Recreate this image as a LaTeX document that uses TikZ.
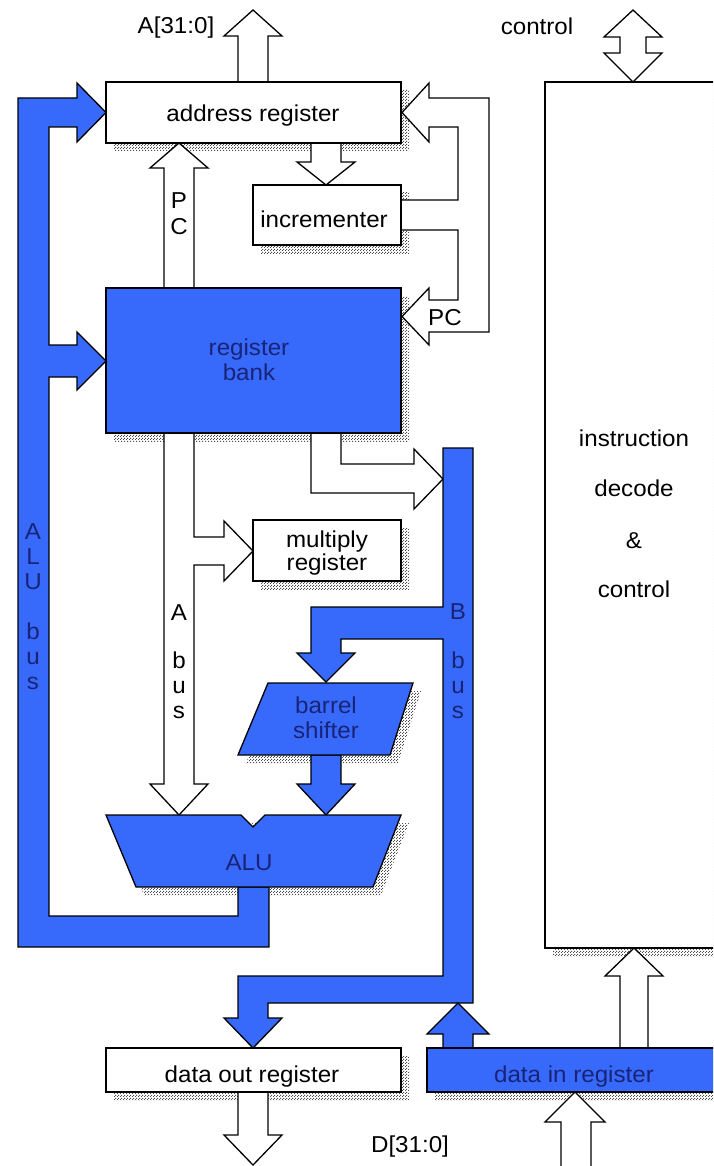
\documentclass[tikz,border=0pt]{standalone}
\usepackage{fontspec}
\setmainfont[FakeStretch=1.05]{Liberation Sans}
\usetikzlibrary{patterns}
\definecolor{busblue}{RGB}{55,105,250}
\definecolor{navy}{RGB}{25,35,120}
% staggered halftone dots for the drop shadows
\pgfdeclarepatternformonly{halftone}{\pgfqpoint{0pt}{0pt}}{\pgfqpoint{3pt}{3pt}}{\pgfqpoint{3pt}{3pt}}{%
  \pgfpathrectangle{\pgfqpoint{0pt}{0pt}}{\pgfqpoint{1.3pt}{1.3pt}}%
  \pgfpathrectangle{\pgfqpoint{1.5pt}{1.5pt}}{\pgfqpoint{1.3pt}{1.3pt}}%
  \pgfusepath{fill}}
\begin{document}
\begin{tikzpicture}[x=1pt,y=-1pt,
  outline/.style={draw=black,line width=1.3pt,line join=miter},
  hollow/.style={outline,fill=white},
  solid/.style={outline,fill=busblue},
  shade/.style={pattern=halftone,pattern color=black!70},
  lbl/.style={font=\fontsize{23}{25}\selectfont,inner sep=0pt,anchor=base},
  blbl/.style={lbl,text=navy}]
\useasboundingbox (0,0) rectangle (713,1166);
\clip (0,0) rectangle (713,1166);
\fill[white] (0,0) rectangle (713,1166);

% ---- drop shadows ----
\fill[shade] (114,90) rectangle (409,151);     % address register
\fill[shade] (261,193) rectangle (409,253);    % incrementer
\fill[shade] (114,296) rectangle (409,441);    % register bank
\fill[shade] (261,528) rectangle (409,589);    % multiply register
\fill[shade] (276,691) -- (421,691) -- (398,763) -- (246,763) -- cycle; % barrel shifter
\fill[shade] (114,823) -- (409,823) -- (381,895) -- (144,895) -- cycle; % ALU
\fill[shade] (553,90) rectangle (725,956);     % instruction decode
\fill[shade] (114,1056) rectangle (409,1100);  % data out register
\fill[shade] (435,1056) rectangle (725,1100);  % data in register

% ---- hollow (white) block arrows ----
% address bus out
\draw[hollow] (238,82) -- (238,36) -- (224,36) -- (253,10) -- (282,36) -- (268,36) -- (268,82) -- cycle;
% control, both ways
\draw[hollow] (633,10) -- (662,37) -- (646,37) -- (646,53) -- (662,53) -- (633,82)
  -- (604,53) -- (620,53) -- (620,37) -- (604,37) -- cycle;
% address register to incrementer
\draw[hollow] (311,143) -- (311,162) -- (297,162) -- (326,185) -- (355,162) -- (341,162) -- (341,143) -- cycle;
% PC from register bank to address register
\draw[hollow] (164,288) -- (164,168) -- (150,168) -- (179,143) -- (208,168) -- (194,168) -- (194,288) -- cycle;
% incrementer feedback to address register and register bank
\draw[hollow] (402,112.5) -- (429,83) -- (429,98) -- (489,98) -- (489,332) -- (429,332) -- (429,345)
  -- (402,316.5) -- (429,288) -- (429,300) -- (458,300) -- (458,230) -- (401,230) -- (401,200)
  -- (458,200) -- (458,127) -- (429,127) -- (429,142) -- cycle;
% A bus with branch to multiply register
\draw[hollow] (164,433) -- (164,784) -- (150,784) -- (179,815) -- (208,784) -- (194,784) -- (194,565)
  -- (224,565) -- (224,581) -- (253,551) -- (224,521) -- (224,537) -- (194,537) -- (194,433) -- cycle;
% register bank to B bus
\draw[hollow] (311,433) -- (311,493) -- (414,493) -- (414,509) -- (443,479) -- (414,449) -- (414,464)
  -- (341,464) -- (341,433) -- cycle;
% data out to D bus
\draw[hollow] (238,1092) -- (238,1135) -- (224,1135) -- (253,1165) -- (282,1135) -- (268,1135) -- (268,1092) -- cycle;
% D bus into data in register
\draw[hollow] (561,1175) -- (561,1122) -- (545,1122) -- (575,1092) -- (605,1122) -- (591,1122) -- (591,1175) -- cycle;
% data in register to instruction decode
\draw[hollow] (620,1048) -- (620,976) -- (605,976) -- (634,948) -- (663,976) -- (648,976) -- (648,1048) -- cycle;

% ---- solid (blue) buses ----
% ALU bus
\draw[solid] (238,887) -- (238,916) -- (49,916) -- (49,377) -- (77,377) -- (77,390) -- (106,361)
  -- (77,332) -- (77,345) -- (49,345) -- (49,127) -- (77,127) -- (77,142) -- (106,112.5)
  -- (77,83) -- (77,98) -- (18,98) -- (18,947) -- (269,947) -- (269,887) -- cycle;
% B bus
\draw[solid] (443,448) -- (473,448) -- (473,1003) -- (268,1003) -- (268,1018) -- (282,1018)
  -- (253,1048) -- (224,1018) -- (238,1018) -- (238,976) -- (443,976) -- (443,639) -- (341,639)
  -- (341,653) -- (355,653) -- (326,682) -- (297,653) -- (311,653) -- (311,607) -- (443,607) -- cycle;
% data in register up to B bus
\draw[solid] (443,1048) -- (443,1034) -- (427,1034) -- (458,1003) -- (489,1034) -- (473,1034) -- (473,1048) -- cycle;
% barrel shifter to ALU
\draw[solid] (311,755) -- (311,784) -- (297,784) -- (326,815) -- (355,784) -- (341,784) -- (341,755) -- cycle;

% ---- blocks ----
\draw[hollow] (106,82) rectangle (401,143);
\draw[hollow] (253,185) rectangle (401,245);
\draw[solid] (106,288) rectangle (401,433);
\draw[hollow] (253,520) rectangle (401,581);
\draw[solid] (268,683) -- (413,683) -- (390,755) -- (238,755) -- cycle;
\draw[solid] (106,815) -- (241,815) -- (253,827) -- (265,815) -- (401,815) -- (373,887) -- (136,887) -- cycle;
\draw[hollow] (545,82) rectangle (725,948);
\draw[hollow] (106,1048) rectangle (401,1092);
\draw[solid] (427,1048) rectangle (725,1092);

% ---- labels ----
\node[lbl] (abus) at (176,34) {A[31:0]};
\node[lbl] (ctl) at (537,35) {control};
\node[lbl] (areg) at (253,122) {address register};
\node[lbl] (inc) at (324,228) {incrementer};
\node[lbl] (pcp) at (179,208.5) {P};
\node[lbl] (pcc) at (179,235) {C};
\node[lbl] (pcr) at (445,325) {PC};
\node[blbl] (rb1) at (249,355) {register};
\node[blbl] (rb2) at (249,380) {bank};
\node[lbl] (mr1) at (327,547) {multiply};
\node[lbl] (mr2) at (327,570) {register};
\node[blbl] (bs1) at (326,713) {barrel};
\node[blbl] (bs2) at (326,738) {shifter};
\node[blbl] (alu) at (249,870) {ALU};
\node[lbl] (dout) at (252,1082) {data out register};
\node[blbl] (din) at (574,1082) {data in register};
\node[lbl] (dbus) at (410,1152) {D[31:0]};
\node[lbl] (id1) at (634,446) {instruction};
\node[lbl] (id2) at (634,496) {decode};
\node[lbl] (id3) at (634,548) {\&};
\node[lbl] (id4) at (634,597) {control};
% vertical bus names
\foreach \ch/\yy [count=\i] in {A/539,L/564,U/589,b/639,u/664,s/689}
  \node[blbl] (alub\i) at (33,\yy) {\ch};
\foreach \ch/\yy [count=\i] in {A/620,b/668,u/693,s/718}
  \node[lbl] (ab\i) at (179,\yy) {\ch};
\foreach \ch/\yy [count=\i] in {B/619,b/668,u/693,s/718}
  \node[blbl] (bb\i) at (458,\yy) {\ch};
\end{tikzpicture}
\end{document}
